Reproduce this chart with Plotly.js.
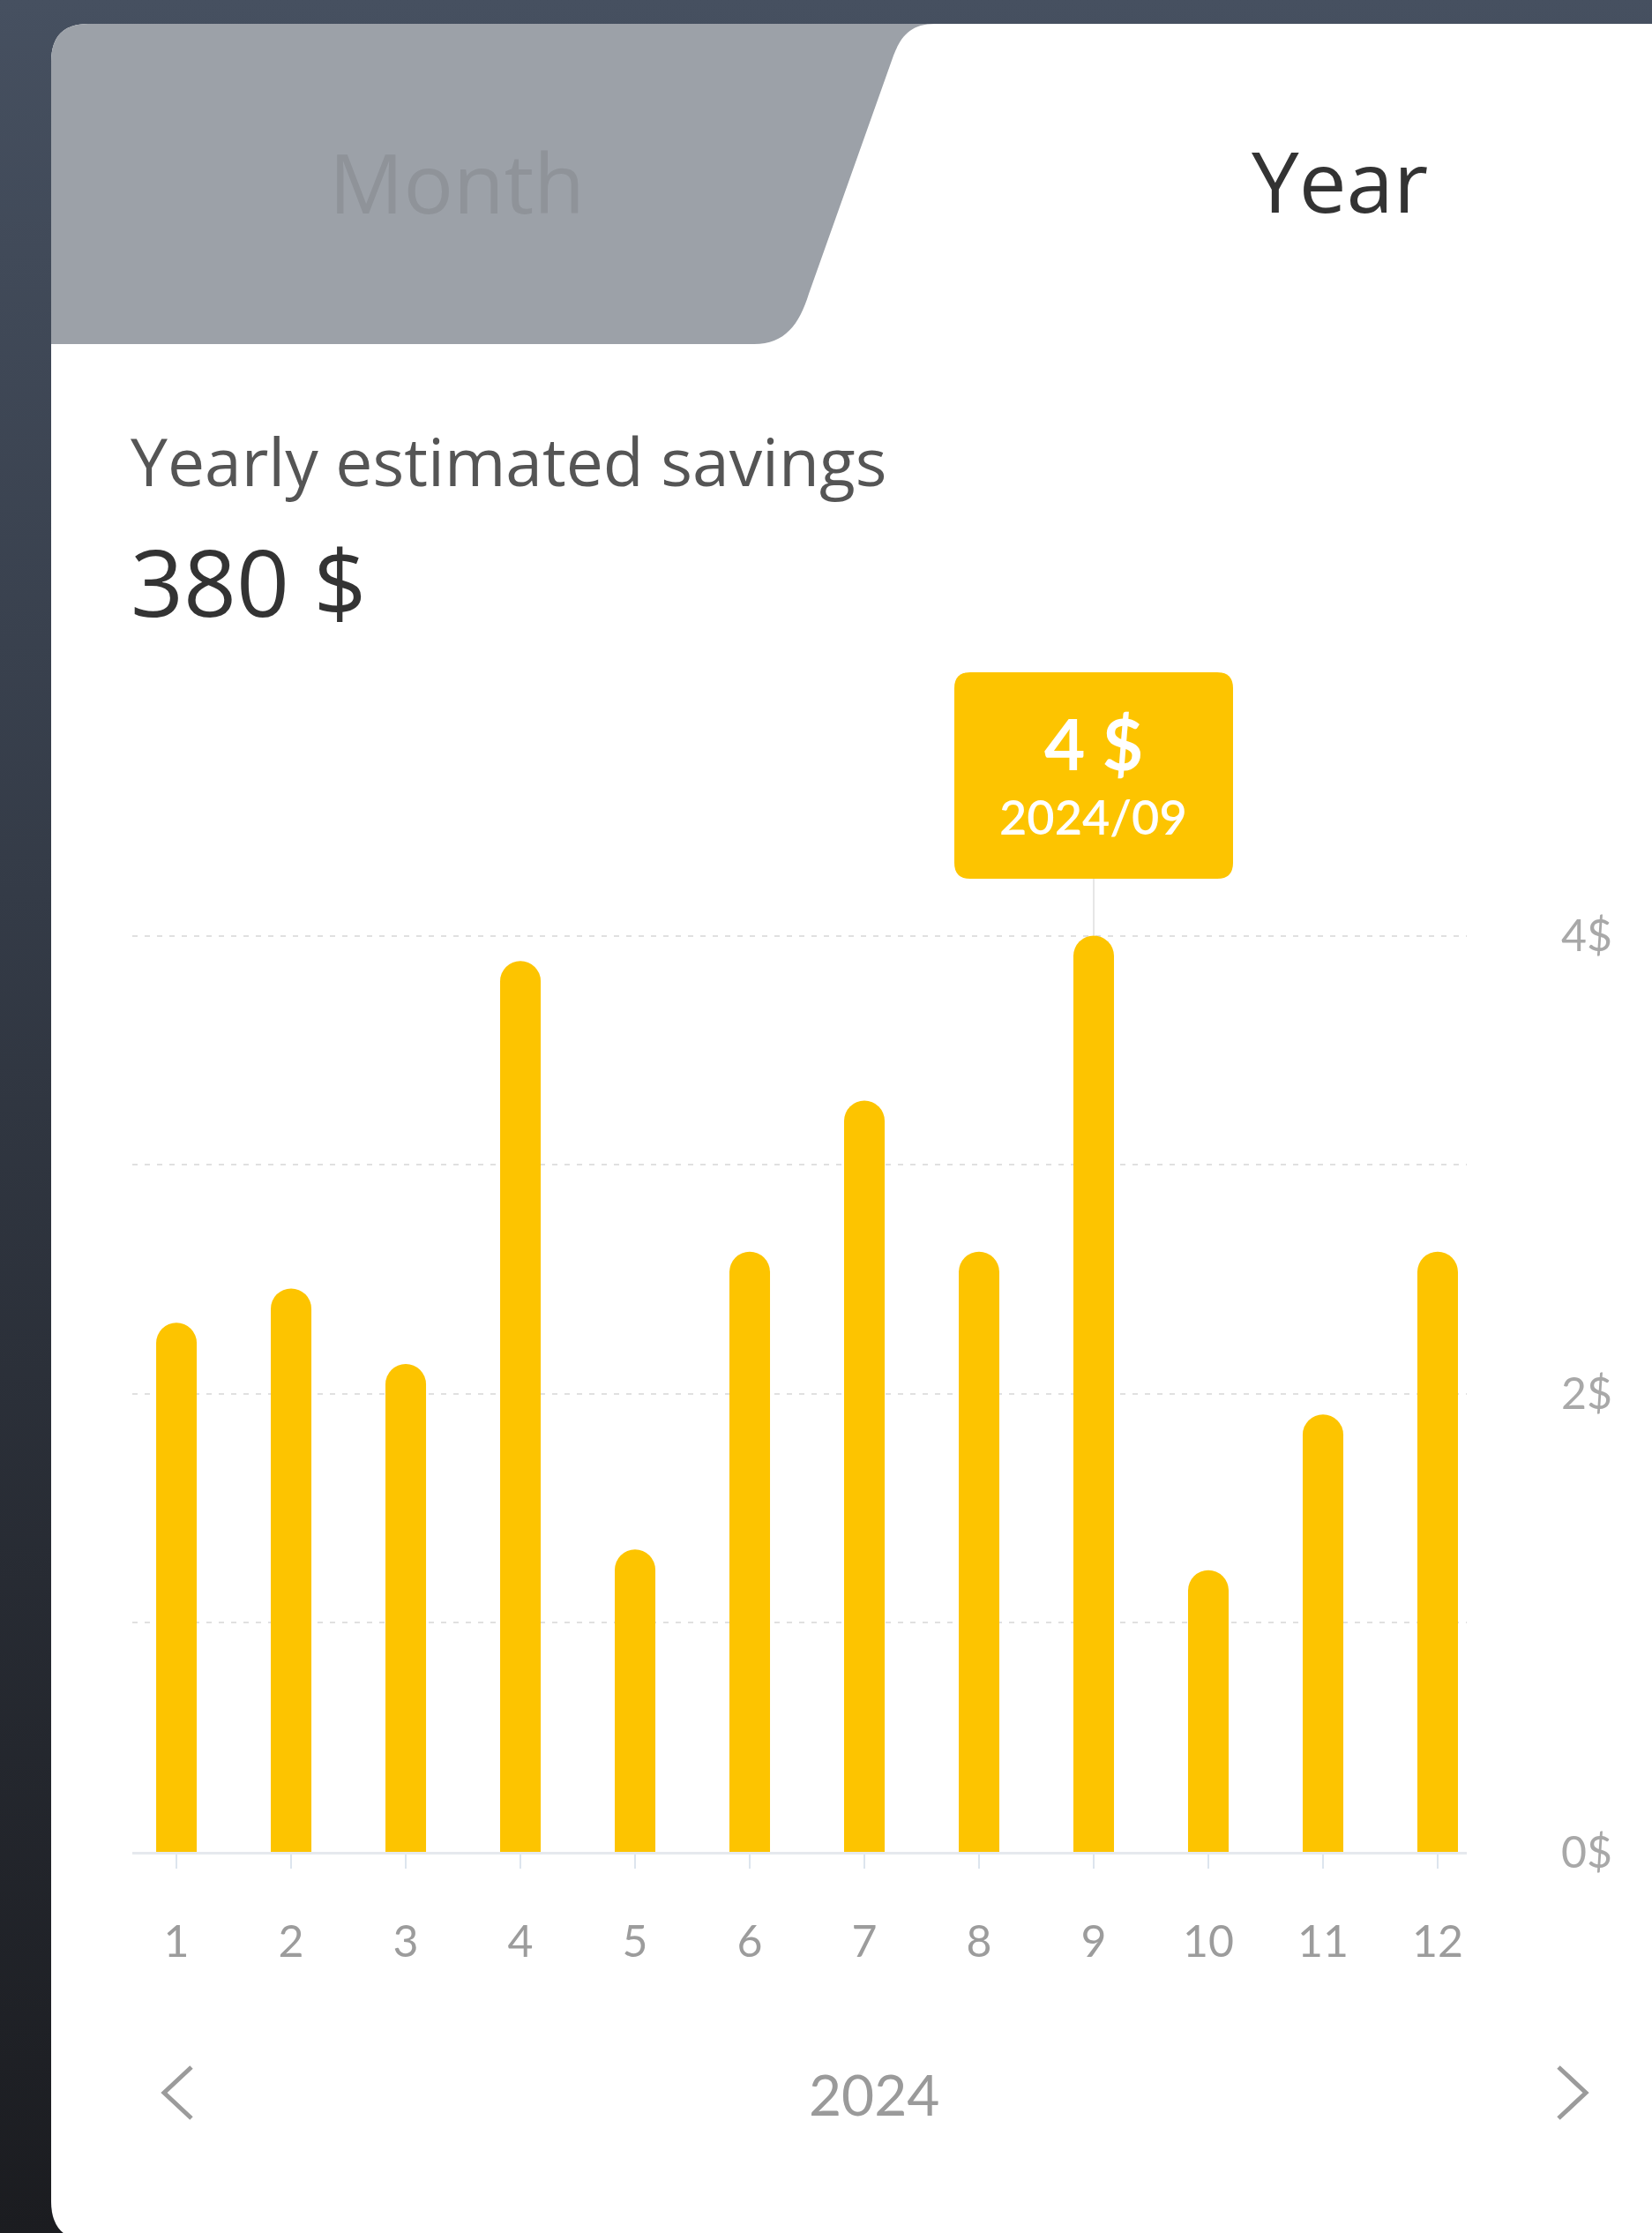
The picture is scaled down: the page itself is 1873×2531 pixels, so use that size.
<!DOCTYPE html>
<html>
<head>
<meta charset="utf-8">
<script src="https://cdn.plot.ly/plotly-3.0.1.min.js"></script>
<style>
  html, body { margin: 0; padding: 0; width: 1873px; height: 2531px; overflow: hidden;
    background: linear-gradient(180deg, #465060 0%, #343b47 40%, #1b1c20 100%); }
  #chart { width: 1873px; height: 2531px; }
</style>
</head>
<body>
<div id="chart"></div>
<script>
// ---- data ----
const months = [1, 2, 3, 4, 5, 6, 7, 8, 9, 10, 11, 12];
const monthLabels = ['1', '2', '3', '4', '5', '6', '7', '8', '9', '10', '11', '12'];
const savings = [2.31, 2.46, 2.13, 3.89, 1.32, 2.62, 3.28, 2.62, 4.0, 1.23, 1.91, 2.62];
const yTickVals = [0, 1, 2, 3, 4];
const yTickText = ['0$', '', '2$', '', '4$'];
const year = 2024;
const totalSavings = 380;
const highlightIndex = 8;
const tabLabels = ['Month', 'Year'];
const subtitle = 'Yearly estimated savings';

// ---- layout geometry (pixels) ----
const PW = 1873, PH = 2531;
const L = 150, R = 1663, T = 700, B = 2099;
const W = R - L, H = B - T;
const X = px => (px - L) / W;
const Y = py => (B - py) / H;
const pxPerUnit = 259.6;
const yMax = H / pxPerUnit;
const xMin = 0.615, xMax = 12.254;
const xToPx = v => L + (v - xMin) / (xMax - xMin) * W;
const yToPx = v => B - v * pxPerUnit;

const FONT = 'Lato, "Noto Sans", sans-serif';
const HFONT = '"Open Sans", "Noto Sans", sans-serif';
const YELLOW = '#FDC400';

function pathPx(cmds) {
  return cmds.map(c => {
    const l = c[0];
    const nums = c.slice(1);
    const out = [];
    for (let i = 0; i < nums.length; i += 2) out.push(X(nums[i]).toFixed(5) + ',' + Y(nums[i + 1]).toFixed(5));
    return l + ' ' + out.join(' ');
  }).join(' ');
}
function roundRect(x0, y0, x1, y1, r) {
  return pathPx([
    ['M', x0 + r, y0], ['L', x1 - r, y0], ['Q', x1, y0, x1, y0 + r],
    ['L', x1, y1 - r], ['Q', x1, y1, x1 - r, y1], ['L', x0 + r, y1],
    ['Q', x0, y1, x0, y1 - r], ['L', x0, y0 + r], ['Q', x0, y0, x0 + r, y0]
  ]) + ' Z';
}

const shapes = [];
// white card
shapes.push({
  type: 'path', xref: 'paper', yref: 'paper', layer: 'below',
  path: pathPx([['M', 100, 27], ['L', 1950, 27], ['L', 1950, 2540], ['L', 103, 2540],
               ['Q', 58, 2540, 58, 2495], ['L', 58, 70], ['Q', 58, 27, 100, 27]]) + ' Z',
  fillcolor: '#ffffff', line: { width: 0 }
});
// inactive grey tab
shapes.push({
  type: 'path', xref: 'paper', yref: 'paper', layer: 'below',
  path: pathPx([['M', 100, 27], ['L', 1060, 27], ['C', 1032, 27, 1021, 42, 1013, 63],
               ['L', 917, 333], ['C', 906, 368, 890, 390, 855, 390], ['L', 58, 390],
               ['L', 58, 70], ['Q', 58, 27, 100, 27]]) + ' Z',
  fillcolor: '#9ca1a8', line: { width: 0 }
});
// tooltip connector
const hx = xToPx(months[highlightIndex]);
const tipTop = 762, tipBot = 996, tipHalf = 158;
shapes.push({
  type: 'line', xref: 'paper', yref: 'paper', layer: 'below',
  x0: X(hx), x1: X(hx), y0: Y(tipBot), y1: Y(yToPx(savings[highlightIndex])),
  line: { color: '#e6e6e6', width: 2 }
});
// tooltip box
shapes.push({
  type: 'path', xref: 'paper', yref: 'paper', layer: 'above',
  path: roundRect(hx - tipHalf, tipTop, hx + tipHalf, tipBot, 18),
  fillcolor: YELLOW, line: { width: 0 }
});
// chevrons
shapes.push({
  type: 'path', xref: 'paper', yref: 'paper', layer: 'above',
  path: pathPx([['M', 217, 2343], ['L', 186, 2372], ['L', 217, 2401]]),
  line: { color: '#9b9b9b', width: 5 }, fillcolor: 'rgba(0,0,0,0)'
});
shapes.push({
  type: 'path', xref: 'paper', yref: 'paper', layer: 'above',
  path: pathPx([['M', 1767, 2343], ['L', 1798, 2372], ['L', 1767, 2401]]),
  line: { color: '#9b9b9b', width: 5 }, fillcolor: 'rgba(0,0,0,0)'
});

const annotations = [
  { text: tabLabels[0], xref: 'paper', yref: 'paper', x: X(518), y: Y(206), xanchor: 'center', yanchor: 'middle',
    showarrow: false, font: { family: HFONT, size: 94, color: '#8f9399' } },
  { text: tabLabels[1], xref: 'paper', yref: 'paper', x: X(1519), y: Y(204), xanchor: 'center', yanchor: 'middle',
    showarrow: false, font: { family: HFONT, size: 96, color: '#333333', weight: 500 } },
  { text: subtitle, xref: 'paper', yref: 'paper', x: X(146), y: Y(522), xanchor: 'left', yanchor: 'middle',
    showarrow: false, font: { family: HFONT, size: 75, color: '#555555' } },
  { text: totalSavings + ' $', xref: 'paper', yref: 'paper', x: X(146), y: Y(658), xanchor: 'left', yanchor: 'middle',
    showarrow: false, font: { family: HFONT, size: 105, color: '#333333', weight: 500 } },
  { text: '<b>' + savings[highlightIndex].toFixed(0) + ' $</b>', xref: 'paper', yref: 'paper', x: X(hx), y: Y(842), xanchor: 'center', yanchor: 'middle',
    showarrow: false, font: { family: FONT, size: 80, color: '#ffffff' } },
  { text: year + '/' + String(months[highlightIndex]).padStart(2, '0'), xref: 'paper', yref: 'paper', x: X(hx), y: Y(925), xanchor: 'center', yanchor: 'middle',
    showarrow: false, font: { family: FONT, size: 54, color: '#ffffff', weight: 600 } },
  { text: String(year), xref: 'paper', yref: 'paper', x: X(991), y: Y(2373), xanchor: 'center', yanchor: 'middle',
    showarrow: false, font: { family: FONT, size: 64, color: '#9a9a9a' } }
];

const trace = {
  type: 'bar',
  x: months,
  y: savings,
  width: months.map(() => 0.354),
  marker: { color: YELLOW, cornerradius: '50%', line: { width: 0 } },
  hoverinfo: 'none'
};

const layout = {
  width: PW, height: PH,
  margin: { l: L, r: PW - R, t: T, b: PH - B, pad: 0 },
  paper_bgcolor: 'rgba(0,0,0,0)',
  plot_bgcolor: 'rgba(0,0,0,0)',
  showlegend: false,
  font: { family: FONT },
  xaxis: {
    range: [xMin, xMax], tickmode: 'array', tickvals: months, ticktext: monthLabels,
    showgrid: false, zeroline: false, showline: true, linecolor: '#e6e9ee', linewidth: 3,
    ticks: 'outside', ticklen: 16, tickwidth: 2, tickcolor: '#dde5ee',
    ticklabelstandoff: 40,
    tickfont: { family: FONT, size: 50, color: '#9c9c9c' }, fixedrange: true
  },
  yaxis: {
    range: [0, yMax], side: 'right', tickmode: 'array', tickvals: yTickVals, ticktext: yTickText,
    showgrid: true, gridcolor: '#e0e0e0', gridwidth: 2, griddash: '6px,8px',
    zeroline: false, showline: false, ticks: '', ticklabelstandoff: 106,
    tickfont: { family: FONT, size: 50, color: '#a8a8a8' }, fixedrange: true
  },
  shapes: shapes,
  annotations: annotations
};

Plotly.newPlot('chart', [trace], layout, { staticPlot: true, displayModeBar: false });
</script>
</body>
</html>
